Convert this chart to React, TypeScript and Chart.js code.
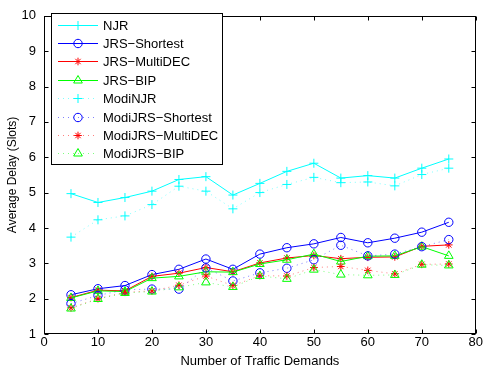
import React, { useEffect, useRef } from "react";
import { Chart, registerables } from "chart.js";

Chart.register(...registerables);

// Number of traffic demands (x axis)
const demands = [5, 10, 15, 20, 25, 30, 35, 40, 45, 50, 55, 60, 65, 70, 75];

// Average delay in slots for each scheme
const njr = [4.97, 4.72, 4.86, 5.04, 5.37, 5.45, 4.93, 5.26, 5.6, 5.83, 5.41, 5.48, 5.41, 5.69, 5.95];
const jrsShortest = [2.11, 2.28, 2.37, 2.68, 2.83, 3.12, 2.83, 3.26, 3.44, 3.55, 3.73, 3.58, 3.71, 3.88, 4.16];
const jrsMultiDec = [2.03, 2.24, 2.22, 2.63, 2.72, 2.88, 2.76, 3.01, 3.15, 3.22, 3.13, 3.17, 3.18, 3.48, 3.52];
const jrsBip = [2.02, 2.22, 2.2, 2.58, 2.63, 2.76, 2.75, 2.98, 3.1, 3.26, 3.05, 3.2, 3.21, 3.47, 3.21];
const modiNjr = [3.74, 4.23, 4.34, 4.66, 5.18, 5.04, 4.54, 5.0, 5.23, 5.43, 5.28, 5.3, 5.19, 5.51, 5.69];
const modiJrsShortest = [1.86, 2.09, 2.25, 2.27, 2.27, 2.87, 2.5, 2.73, 2.86, 3.1, 3.51, 3.21, 3.26, 3.47, 3.67];
const modiJrsMultiDec = [1.74, 2.0, 2.18, 2.22, 2.38, 2.64, 2.37, 2.65, 2.64, 2.88, 2.91, 2.8, 2.7, 2.97, 2.98];
const modiJrsBip = [1.72, 1.99, 2.16, 2.2, 2.32, 2.46, 2.33, 2.64, 2.56, 2.82, 2.68, 2.66, 2.67, 2.96, 2.94];

const seriesNames = [
  "NJR",
  "JRS\u2212Shortest",
  "JRS\u2212MultiDEC",
  "JRS\u2212BIP",
  "ModiNJR",
  "ModiJRS\u2212Shortest",
  "ModiJRS\u2212MultiDEC",
  "ModiJRS\u2212BIP",
];
const seriesValues = [njr, jrsShortest, jrsMultiDec, jrsBip, modiNjr, modiJrsShortest, modiJrsMultiDec, modiJrsBip];

const xTickValues = [0, 10, 20, 30, 40, 50, 60, 70, 80];
const yTickValues = [1, 2, 3, 4, 5, 6, 7, 8, 9, 10];

type Marker = "cross" | "circle" | "star" | "triangle";

// Per-series look: colour, marker and whether the line is dotted
const styles: { color: string; rgb: string; marker: Marker; radius: number; dotted: boolean }[] = [
  { color: "#00ffff", rgb: "0,255,255", marker: "cross", radius: 4.5, dotted: false },
  { color: "#0000ff", rgb: "0,0,255", marker: "circle", radius: 4.2, dotted: false },
  { color: "#ff0000", rgb: "255,0,0", marker: "star", radius: 3.8, dotted: false },
  { color: "#00ff00", rgb: "0,255,0", marker: "triangle", radius: 5, dotted: false },
  { color: "#00ffff", rgb: "0,255,255", marker: "cross", radius: 4.5, dotted: true },
  { color: "#0000ff", rgb: "0,0,255", marker: "circle", radius: 4.2, dotted: true },
  { color: "#ff0000", rgb: "255,0,0", marker: "star", radius: 3.8, dotted: true },
  { color: "#00ff00", rgb: "0,255,0", marker: "triangle", radius: 5, dotted: true },
];

const FONT = '"Liberation Sans", Arial, Helvetica, sans-serif';
const TEXT_SIZE = 13;
const Y_TITLE_SIZE = 12;
const DOT_DASH = [1, 4];
const DOT_ALPHA = 0.5;

function lineColor(i: number) {
  const s = styles[i];
  return s.dotted ? `rgba(${s.rgb},${DOT_ALPHA})` : s.color;
}

function drawMarker(ctx: CanvasRenderingContext2D, m: Marker, x: number, y: number, r: number, color: string) {
  ctx.save();
  ctx.strokeStyle = color;
  ctx.lineWidth = 1;
  ctx.setLineDash([]);
  ctx.beginPath();
  if (m === "circle") {
    ctx.arc(x, y, r, 0, Math.PI * 2);
  } else if (m === "cross") {
    ctx.moveTo(x - r, y);
    ctx.lineTo(x + r, y);
    ctx.moveTo(x, y - r);
    ctx.lineTo(x, y + r);
  } else if (m === "star") {
    for (let k = 0; k < 4; k++) {
      const a = (k * Math.PI) / 4;
      ctx.moveTo(x - Math.cos(a) * r, y - Math.sin(a) * r);
      ctx.lineTo(x + Math.cos(a) * r, y + Math.sin(a) * r);
    }
  } else {
    let a = 0;
    ctx.moveTo(x + Math.sin(a) * r, y - Math.cos(a) * r);
    a += (2 * Math.PI) / 3;
    ctx.lineTo(x + Math.sin(a) * r, y - Math.cos(a) * r);
    a += (2 * Math.PI) / 3;
    ctx.lineTo(x + Math.sin(a) * r, y - Math.cos(a) * r);
    ctx.closePath();
  }
  ctx.stroke();
  ctx.restore();
}

// Box frame, inward ticks on all four sides, and the boxed legend
const framePlugin = {
  id: "matlabFrame",
  afterDraw(chart: any) {
    const { ctx, chartArea: a, scales } = chart;
    const L = Math.round(a.left) + 0.5;
    const R = Math.round(a.right) - 0.5;
    const T = Math.round(a.top) + 0.5;
    const B = Math.round(a.bottom) - 0.5;
    const tick = 4;
    ctx.save();
    ctx.strokeStyle = "#000";
    ctx.lineWidth = 1;
    ctx.setLineDash([]);
    ctx.beginPath();
    for (const v of xTickValues) {
      const px = Math.round(scales.x.getPixelForValue(v)) + 0.5;
      ctx.moveTo(px, B);
      ctx.lineTo(px, B - tick);
      ctx.moveTo(px, T);
      ctx.lineTo(px, T + tick);
    }
    for (const v of yTickValues) {
      const py = Math.round(scales.y.getPixelForValue(v)) + 0.5;
      ctx.moveTo(L, py);
      ctx.lineTo(L + tick, py);
      ctx.moveTo(R, py);
      ctx.lineTo(R - tick, py);
    }
    ctx.stroke();
    ctx.strokeRect(L, T, R - L, B - T);

    // legend
    const bx = 51.5;
    const by = 13.5;
    const bw = 171;
    const bh = 151;
    ctx.fillStyle = "#fff";
    ctx.fillRect(bx, by, bw, bh);
    ctx.strokeRect(bx, by, bw, bh);
    ctx.font = `${TEXT_SIZE}px ${FONT}`;
    ctx.textBaseline = "middle";
    ctx.textAlign = "left";
    seriesNames.forEach((name, i) => {
      const s = styles[i];
      const y = Math.round(24.5 + i * 18.4) + 0.5;
      ctx.save();
      ctx.strokeStyle = lineColor(i);
      ctx.lineWidth = 1;
      ctx.setLineDash(s.dotted ? DOT_DASH : []);
      ctx.beginPath();
      ctx.moveTo(58, y);
      ctx.lineTo(98, y);
      ctx.stroke();
      ctx.restore();
      drawMarker(ctx, s.marker, 78, y, s.radius, s.color);
      ctx.fillStyle = "#000";
      ctx.fillText(name, 103, y + 0.5);
    });
    ctx.restore();
  },
};

export default function App() {
  const canvasRef = useRef<HTMLCanvasElement | null>(null);

  useEffect(() => {
    const canvas = canvasRef.current;
    if (!canvas) return;
    const datasets = seriesValues.map((vals, i) => {
      const s = styles[i];
      return {
        label: seriesNames[i],
        data: vals.map((v, k) => ({ x: demands[k], y: v })),
        borderColor: lineColor(i),
        backgroundColor: "rgba(0,0,0,0)",
        borderWidth: 1,
        borderDash: s.dotted ? DOT_DASH : [],
        pointStyle: s.marker,
        pointRadius: s.radius,
        pointBorderWidth: 1,
        pointBorderColor: s.color,
        pointBackgroundColor: "rgba(0,0,0,0)",
        tension: 0,
        fill: false,
        order: seriesNames.length - i,
      };
    });

    const chart = new Chart(canvas, {
      type: "line",
      data: { datasets },
      plugins: [framePlugin],
      options: {
        animation: false,
        responsive: false,
        devicePixelRatio: 1,
        layout: { padding: { left: 0, top: 7, right: 7, bottom: 0 } },
        plugins: { legend: { display: false }, tooltip: { enabled: false } },
        scales: {
          x: {
            type: "linear",
            min: 0,
            max: 80,
            afterFit: (s: any) => {
              s.height = 40;
            },
            afterBuildTicks: (s: any) => {
              s.ticks = xTickValues.map((v) => ({ value: v }));
            },
            grid: { display: false, drawTicks: false },
            border: { display: false },
            ticks: { color: "#000", font: { family: FONT, size: TEXT_SIZE }, padding: 1, maxRotation: 0 },
            title: {
              display: true,
              text: "Number of Traffic Demands",
              color: "#000",
              font: { family: FONT, size: TEXT_SIZE },
              padding: { top: 0, bottom: 5 },
            },
          },
          y: {
            type: "linear",
            min: 1,
            max: 10,
            afterFit: (s: any) => {
              s.width = 44;
            },
            afterBuildTicks: (s: any) => {
              s.ticks = yTickValues.map((v) => ({ value: v }));
            },
            grid: { display: false, drawTicks: false },
            border: { display: false },
            ticks: { color: "#000", font: { family: FONT, size: TEXT_SIZE }, padding: 8 },
            title: {
              display: true,
              text: "Average Delay (Slots)",
              color: "#000",
              font: { family: FONT, size: Y_TITLE_SIZE },
              padding: { top: 5, bottom: 0 },
            },
          },
        },
      },
    });
    return () => chart.destroy();
  }, []);

  return (
    <div style={{ position: "fixed", left: 0, top: 0, width: 484, height: 374, background: "#fff" }}>
      <canvas ref={canvasRef} width={484} height={374} style={{ display: "block" }} />
    </div>
  );
}
